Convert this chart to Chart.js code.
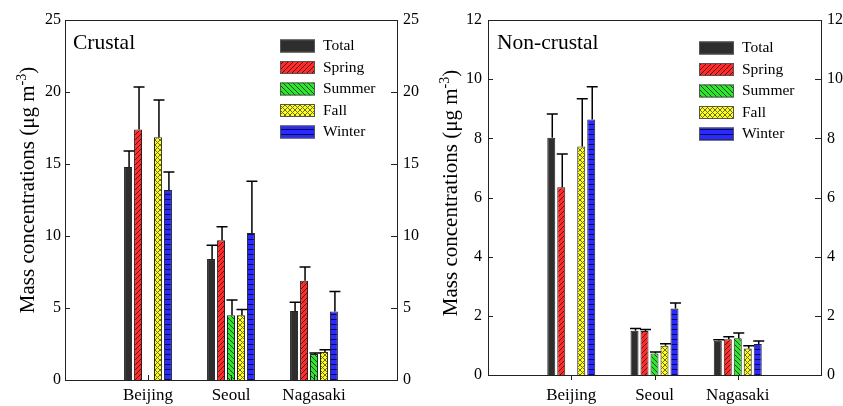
<!DOCTYPE html>
<html>
<head>
<meta charset="utf-8">
<script src="https://cdn.jsdelivr.net/npm/chart.js@4.4.1/dist/chart.umd.min.js"></script>
<style>
  html, body { margin: 0; padding: 0; background: #fff; }
  #wrap { position: relative; width: 843px; height: 406px; }
  canvas { position: absolute; top: 0; }
</style>
</head>
<body>
<div id="wrap">
  <canvas id="crustal" width="430" height="406" style="left:0"></canvas>
  <canvas id="noncrustal" width="413" height="406" style="left:430px"></canvas>
</div>
<script>
// categories (empty slots at both ends keep the groups where the original axis puts them)
const cities = ['Beijing', 'Seoul', 'Nagasaki'];
const seasons = ['Total', 'Spring', 'Summer', 'Fall', 'Winter'];

// crustal, ug m-3
const crTotal  = [14.8, 8.4, 4.8];
const crSpring = [17.4, 9.7, 6.9];
const crSummer = [null, 4.5, 1.8];
const crFall   = [16.85, 4.5, 1.95];
const crWinter = [13.2, 10.2, 4.75];
const crTotalErr  = [1.1, 0.95, 0.6];
const crSpringErr = [2.95, 0.95, 0.95];
const crSummerErr = [null, 1.05, 0.08];
const crFallErr   = [2.6, 0.4, 0.15];
const crWinterErr = [1.25, 3.6, 1.4];

// non-crustal, ug m-3
const ncTotal  = [8.02, 1.5, 1.16];
const ncSpring = [6.35, 1.49, 1.21];
const ncSummer = [null, 0.73, 1.24];
const ncFall   = [7.72, 0.99, 0.9];
const ncWinter = [8.64, 2.25, 1.05];
const ncTotalErr  = [0.8, 0.07, 0.03];
const ncSpringErr = [1.12, 0.05, 0.08];
const ncSummerErr = [null, 0.05, 0.18];
const ncFallErr   = [1.62, 0.07, 0.09];
const ncWinterErr = [1.1, 0.18, 0.1];

const crTicks = [0, 5, 10, 15, 20, 25];
const ncTicks = [0, 2, 4, 6, 8, 10, 12];

const SERIF = "'Liberation Serif', 'Times New Roman', serif";
Chart.defaults.font.family = SERIF;
Chart.defaults.color = '#000';

function hatch(kind, bg, fg) {
  const s = 5;
  const c = document.createElement('canvas');
  c.width = s; c.height = s;
  const g = c.getContext('2d');
  g.fillStyle = bg; g.fillRect(0, 0, s, s);
  g.strokeStyle = fg; g.lineWidth = 1;
  g.beginPath();
  if (kind === 'slash' || kind === 'cross') {
    g.moveTo(-1, s + 1); g.lineTo(s + 1, -1);
    g.moveTo(-1, 1); g.lineTo(1, -1);
    g.moveTo(s - 1, s + 1); g.lineTo(s + 1, s - 1);
  }
  if (kind === 'back' || kind === 'cross') {
    g.moveTo(-1, -1); g.lineTo(s + 1, s + 1);
    g.moveTo(s - 1, -1); g.lineTo(s + 1, 1);
    g.moveTo(-1, s - 1); g.lineTo(1, s + 1);
  }
  if (kind === 'hline') {
    g.moveTo(0, s - 0.5); g.lineTo(s, s - 0.5);
  }
  g.stroke();
  return g.createPattern(c, 'repeat');
}

const fills = [
  '#2e2e2e',
  hatch('slash', '#ff2b2b', '#5a0a0a'),
  hatch('back', '#2ee62e', '#0a4a0a'),
  hatch('cross', '#ffff1e', '#6b6b10'),
  hatch('hline', '#2a2aff', '#0a0a50')
];

const pad = arr => [null, ...arr, null];

function makeSets(values, errors) {
  return values.map((v, i) => ({
    label: seasons[i],
    data: pad(v),
    errors: pad(errors[i]),
    backgroundColor: fills[i],
    borderColor: '#222',
    borderWidth: 1,
    barPercentage: 0.8,
    categoryPercentage: 0.6
  }));
}

const decor = {
  id: 'decor',
  afterDatasetsDraw(chart) {
    const ctx = chart.ctx, ys = chart.scales.y;
    ctx.save();
    ctx.strokeStyle = '#000';
    ctx.lineWidth = 1.5;
    chart.data.datasets.forEach((ds, i) => {
      chart.getDatasetMeta(i).data.forEach((bar, j) => {
        const v = ds.data[j], e = ds.errors[j];
        if (v == null || e == null) return;
        const top = ys.getPixelForValue(v + e);
        const bx = bar.x + 1;
        ctx.beginPath();
        ctx.moveTo(bx, bar.y);
        ctx.lineTo(bx, top);
        ctx.moveTo(bx - 5.5, top);
        ctx.lineTo(bx + 5.5, top);
        ctx.stroke();
      });
    });
    ctx.restore();
  },
  afterDraw(chart, args, o) {
    const ctx = chart.ctx, a = chart.chartArea;
    const ys = chart.scales.y, xs = chart.scales.x;
    ctx.save();
    ctx.strokeStyle = '#222';
    ctx.lineWidth = 1;
    ctx.strokeRect(Math.round(a.left) + 0.5, Math.round(a.top) + 0.5,
      Math.round(a.right - a.left), Math.round(a.bottom - a.top));
    ctx.beginPath();
    o.ticks.forEach(t => {
      const py = Math.round(ys.getPixelForValue(t)) + 0.5;
      ctx.moveTo(a.left, py); ctx.lineTo(a.left + 5, py);
      ctx.moveTo(a.right, py); ctx.lineTo(a.right - 6, py);
    });
    cities.forEach((c, i) => {
      const px = Math.round(xs.getPixelForValue(i + 1)) + 0.5;
      ctx.moveTo(px, a.bottom); ctx.lineTo(px, a.bottom + o.xTick);
    });
    ctx.stroke();

    // panel title
    ctx.fillStyle = '#000';
    ctx.font = '21.5px ' + SERIF;
    ctx.textBaseline = 'middle';
    ctx.textAlign = 'left';
    ctx.fillText(o.title, o.titleX, 43);

    // legend
    ctx.font = '15.5px ' + SERIF;
    chart.data.datasets.forEach((ds, i) => {
      const cy = o.legY + i * 21.5;
      ctx.fillStyle = ds.backgroundColor;
      ctx.fillRect(o.legX, cy - 6.5, 35, 13);
      ctx.strokeStyle = '#555';
      ctx.strokeRect(o.legX + 0.5, cy - 6, 34, 12);
      ctx.fillStyle = '#000';
      ctx.fillText(ds.label, o.legX + 43, cy);
    });

    // y axis title with superscript
    const main = 'Mass concentrations (\u03bcg m', sup = '-3', tail = ')';
    const big = '21px ' + SERIF, small = '14px ' + SERIF;
    ctx.font = big;
    const w1 = ctx.measureText(main).width, w3 = ctx.measureText(tail).width;
    ctx.font = small;
    const w2 = ctx.measureText(sup).width;
    const total = w1 + w2 + w3;
    ctx.translate(o.yTitleX, o.yTitleY);
    ctx.rotate(-Math.PI / 2);
    ctx.textBaseline = 'alphabetic';
    let s = -total / 2;
    ctx.font = big;
    ctx.fillText(main, s, 0);
    ctx.font = small;
    ctx.fillText(sup, s + w1, -8);
    ctx.font = big;
    ctx.fillText(tail, s + w1 + w2, 0);
    ctx.restore();
  }
};

function build(id, sets, maxY, step, o) {
  return new Chart(document.getElementById(id), {
    type: 'bar',
    data: { labels: ['', ...cities, ''], datasets: sets },
    options: {
      responsive: false,
      animation: false,
      layout: { padding: { top: 20, left: 0, right: 0, bottom: 0 } },
      plugins: { legend: { display: false }, tooltip: { enabled: false }, decor: o },
      scales: {
        x: {
          type: 'category',
          offset: false,
          grid: { display: false, drawTicks: false },
          border: { display: false },
          ticks: { autoSkip: false, maxRotation: 0, padding: o.xPad, font: { size: 17 } },
          afterFit: s => { s.height = o.xH; }
        },
        y: {
          position: 'left',
          min: 0, max: maxY,
          grid: { display: false, drawTicks: false },
          border: { display: false },
          ticks: { stepSize: step, padding: o.yPadL, font: { size: 16 } },
          afterFit: s => { s.width = o.yW; }
        },
        y2: {
          position: 'right',
          min: 0, max: maxY,
          grid: { display: false, drawTicks: false },
          border: { display: false },
          ticks: { stepSize: step, padding: o.yPadR, font: { size: 16 } },
          afterFit: s => { s.width = o.y2W; }
        }
      }
    },
    plugins: [decor]
  });
}

build('crustal',
  makeSets([crTotal, crSpring, crSummer, crFall, crWinter],
           [crTotalErr, crSpringErr, crSummerErr, crFallErr, crWinterErr]),
  25, 5,
  { ticks: crTicks, xTick: -5, xPad: 5, xH: 26, yW: 65, y2W: 33, yPadL: 4, yPadR: 6,
    title: 'Crustal', titleX: 73, legX: 280, legY: 46, yTitleX: 34, yTitleY: 190 });

build('noncrustal',
  makeSets([ncTotal, ncSpring, ncSummer, ncFall, ncWinter],
           [ncTotalErr, ncSpringErr, ncSummerErr, ncFallErr, ncWinterErr]),
  12, 2,
  { ticks: ncTicks, xTick: 5, xPad: 10, xH: 31, yW: 58, y2W: 22, yPadL: 6, yPadR: 6,
    title: 'Non-crustal', titleX: 67, legX: 269, legY: 48, yTitleX: 27, yTitleY: 193 });
</script>
</body>
</html>
